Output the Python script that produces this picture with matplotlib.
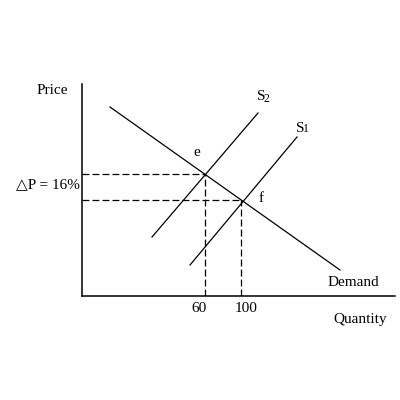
import matplotlib
matplotlib.use('Agg')
import matplotlib.pyplot as plt

# Schematic supply/demand diagram, coordinates in axis units (origin at axes corner)
demand_q = [28, 258]
demand_p = [189, 26]
s2_q = [70, 176]
s2_p = [59, 183]
s1_q = [108, 215]
s1_p = [31, 159]

# equilibrium points e (with S2) and f (with S1)
eq_labels = ['e', 'f']
eq_q = [123, 159]
eq_p = [122, 96]
q_ticks = ['60', '100']

FONT = ['Liberation Serif', 'DejaVu Serif']
plt.rcParams['font.family'] = FONT

fig = plt.figure(figsize=(4, 4), dpi=100)
ax = fig.add_axes([82 / 400, 104 / 400, 313 / 400, 212 / 400])
ax.set_xlim(0, 313)
ax.set_ylim(0, 212)

lw = 0.9
ax.plot(demand_q, demand_p, color='black', lw=lw)
ax.plot(s2_q, s2_p, color='black', lw=lw)
ax.plot(s1_q, s1_p, color='black', lw=lw)

# dashed guide lines to the axes
for q, p in zip(eq_q, eq_p):
    ax.plot([0, q], [p, p], color='black', lw=lw, ls=(0, (5.5, 2.5)))
    ax.plot([q, q], [0, p], color='black', lw=lw, ls=(0, (5.5, 2.5)))

ax.spines['top'].set_visible(False)
ax.spines['right'].set_visible(False)
ax.spines['left'].set_linewidth(1.1)
ax.spines['bottom'].set_linewidth(1.1)
ax.set_xticks([])
ax.set_yticks([])

fs = 11
# labels
ax.text(-14, 206, 'Price', ha='right', va='center', fontsize=fs, clip_on=False)
ax.text(-2, (eq_p[0] + eq_p[1]) / 2 + 2, '△P = 16%', ha='right', va='center',
        fontsize=fs, clip_on=False)
for q, t in zip(eq_q, q_ticks):
    ax.text(q + 5 if t == '100' else q - 6, -12, t, ha='center', va='center',
            fontsize=fs, clip_on=False)
ax.text(278, -24, 'Quantity', ha='center', va='center', fontsize=fs, clip_on=False)
ax.text(271, 13, 'Demand', ha='center', va='center', fontsize=fs, clip_on=False)

# supply curve labels with small subscript digits
for q, p, dy, d in [(s2_q[1], s2_p[1], 16, '2'), (s1_q[1], s1_p[1], 9, '1')]:
    ax.text(q - 1, p + dy, 'S', ha='left', va='center', fontsize=fs, clip_on=False)
    ax.text(q + 6, p + dy - 1.5, d, ha='left', va='center', fontsize=8.5, clip_on=False)

ax.text(eq_q[0] - 8, eq_p[0] + 22, eq_labels[0], ha='center', va='center', fontsize=fs)
ax.text(eq_q[1] + 20, eq_p[1] + 2, eq_labels[1], ha='center', va='center', fontsize=fs)

fig.savefig('out.png', dpi=100, facecolor='white')
